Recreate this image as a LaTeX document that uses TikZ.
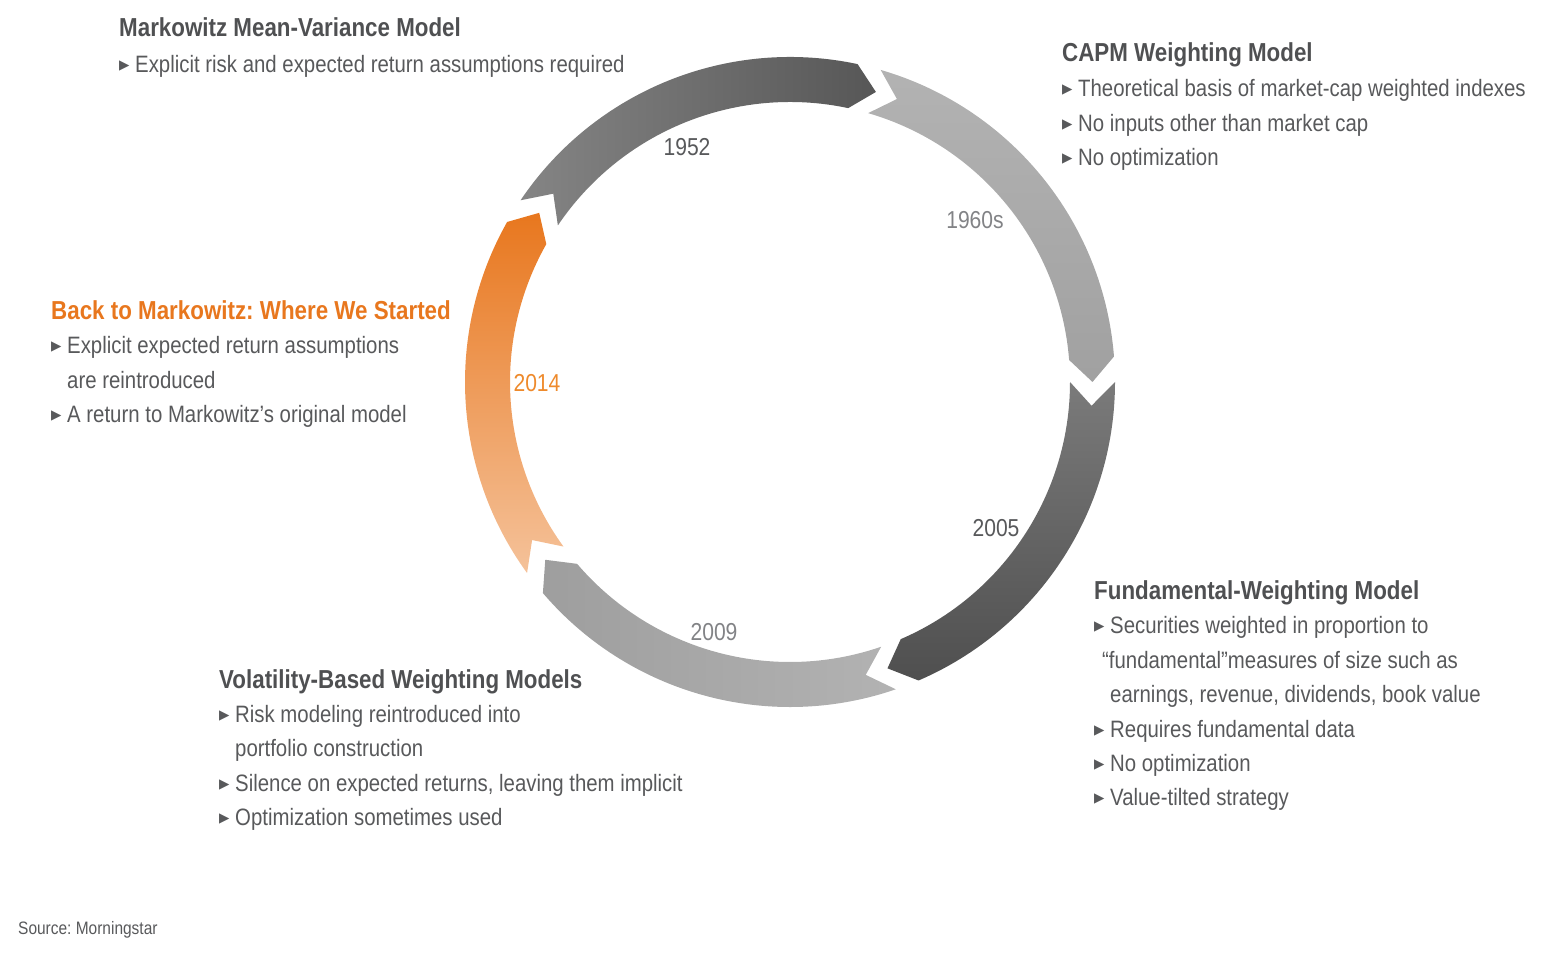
\documentclass[tikz,border=0pt]{standalone}
\usepackage{fontspec}
\setmainfont{Liberation Sans}[FakeStretch=0.86]
\newfontfamily\symfont{DejaVu Sans}
\frenchspacing
\definecolor{txt}{HTML}{58595B}
\definecolor{ttl}{HTML}{4F5052}
\definecolor{orng}{HTML}{E8771E}
\definecolor{yrlight}{HTML}{828386}
\definecolor{yrorng}{HTML}{EE8A2C}
\newcommand\bul{\makebox[16pt][l]{\raisebox{3.5pt}{\symfont\fontsize{13.5}{13.5}\selectfont ▶}}}
\newcommand\ringseg[3]{\shade[#3] (#1:325) arc[start angle=#1, end angle=#2, radius=325] -- ({#2-4.5}:302.5) -- (#2:280) arc[start angle=#2, end angle=#1, radius=280] -- ({#1-4.5}:302.5) -- cycle;}
\tikzset{
  body/.style={inner sep=0pt, anchor=base west, text=txt, font=\fontsize{23.7}{28}\selectfont},
  title/.style={inner sep=0pt, anchor=base west, text=ttl, font=\fontsize{26}{30}\selectfont\bfseries},
  year/.style={inner sep=0pt, anchor=center, font=\fontsize{24.5}{28}\selectfont},
}
\begin{document}
\begin{tikzpicture}[x=1pt,y=1pt]
\useasboundingbox (0,0) rectangle (1567,956);
\begin{scope}[shift={(790,574)}]
  \ringseg{146}{78}{left color=black!48!white, right color=black!66!white}
  \ringseg{73.8}{4.5}{top color=black!30!white, bottom color=black!37!white}
  \ringseg{0}{-66.7}{top color=black!52!white, bottom color=black!69!white}
  \ringseg{-71}{-139.5}{left color=black!38!white, right color=black!30!white}
  \ringseg{216}{150.5}{top color=orng, bottom color=orng!45!white}
\end{scope}
% years
\node[year, text=txt] (y1952) at (687,809) {1952};
\node[year, text=yrlight] (y1960) at (975,736) {1960s};
\node[year, text=txt] (y2005) at (996,428) {2005};
\node[year, text=yrlight] (y2009) at (714,324) {2009};
\node[year, text=yrorng] (y2014) at (537,573) {2014};
% Markowitz
\node[title] (a0) at (119,919) {Markowitz Mean-Variance Model};
\node[body] (a1) at (119,883) {\bul Explicit risk and expected return assumptions required};
% CAPM
\node[title] (b0) at (1062,894) {CAPM Weighting Model};
\node[body] (b1) at (1062,859) {\bul Theoretical basis of market-cap weighted indexes};
\node[body] (b2) at (1062,824) {\bul No inputs other than market cap};
\node[body] (b3) at (1062,790) {\bul No optimization};
% Back to Markowitz
\node[title, text=orng] (c0) at (51,636) {Back to Markowitz: Where We Started};
\node[body] (c1) at (51,602) {\bul Explicit expected return assumptions};
\node[body] (c2) at (67,567) {are reintroduced};
\node[body] (c3) at (51,533) {\bul A return to Markowitz’s original model};
% Volatility
\node[title] (d0) at (219,267) {Volatility-Based Weighting Models};
\node[body] (d1) at (219,233) {\bul Risk modeling reintroduced into};
\node[body] (d2) at (235,199) {portfolio construction};
\node[body] (d3) at (219,164) {\bul Silence on expected returns, leaving them implicit};
\node[body] (d4) at (219,130) {\bul Optimization sometimes used};
% Fundamental
\node[title] (e0) at (1094,356) {Fundamental-Weighting Model};
\node[body] (e1) at (1094,322) {\bul Securities weighted in proportion to};
\node[body] (e2) at (1102,287) {“fundamental”measures of size such as};
\node[body] (e3) at (1110,253) {earnings, revenue, dividends, book value};
\node[body] (e4) at (1094,218) {\bul Requires fundamental data};
\node[body] (e5) at (1094,184) {\bul No optimization};
\node[body] (e6) at (1094,150) {\bul Value-tilted strategy};
% source
\node[inner sep=0pt, anchor=base west, text=txt, font=\fontsize{18}{20}\selectfont] (src) at (18,21) {Source: Morningstar};
\end{tikzpicture}
\end{document}
